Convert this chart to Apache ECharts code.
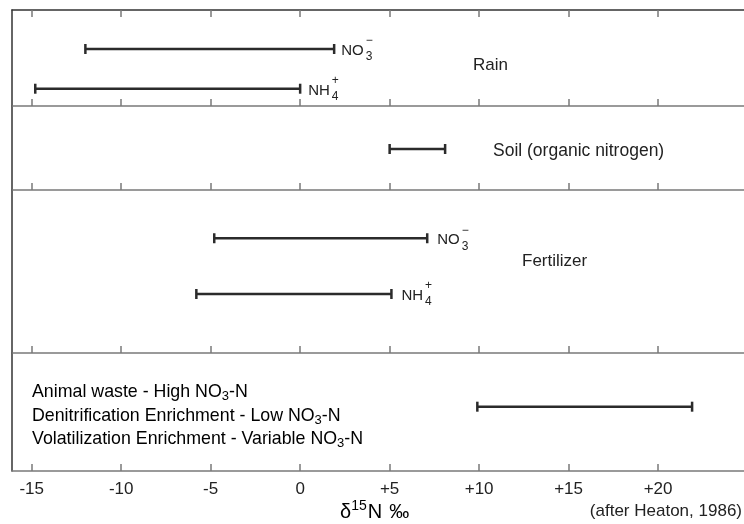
<!DOCTYPE html>
<html lang="en">
<head>
<meta charset="UTF-8">
<title>d15N ranges</title>
<script src="https://cdn.jsdelivr.net/npm/echarts@6/dist/echarts.min.js"></script>
<style>
  html, body { margin: 0; padding: 0; background: #fff; }
  #main { width: 744px; height: 524px; }
</style>
</head>
<body>
<div id="main"></div>
<script>
// ranges of d15N (per mil)
var rainNO3 = [-12, 1.9];
var rainNH4 = [-14.8, 0];
var soilN = [5, 8.1];
var fertNO3 = [-4.8, 7.1];
var fertNH4 = [-5.8, 5.1];
var animalWaste = [9.9, 21.9];

var tickValues = [-15, -10, -5, 0, 5, 10, 15, 20];
var xMin = -16.1, xMax = 24.8;

var FONT = "'Liberation Sans', Arial, Helvetica, sans-serif";
var INK = '#2b2b2b';
var AXIS = '#7a7a7a';

// panel boxes (px)
var panels = [
  { top: 10, height: 96 },
  { top: 106, height: 84 },
  { top: 190, height: 163 },
  { top: 353, height: 118 }
];

// which panel, where inside it (0 = top, 1 = bottom), ion label
var rows = [
  { panel: 0, range: rainNO3, at: 0.406, ion: ['NO', '\u2212', '3'], gap: 7 },
  { panel: 0, range: rainNH4, at: 0.82, ion: ['NH', '+', '4'], gap: 8 },
  { panel: 1, range: soilN, at: 0.512, ion: null },
  { panel: 2, range: fertNO3, at: 0.296, ion: ['NO', '\u2212', '3'], gap: 10 },
  { panel: 2, range: fertNH4, at: 0.638, ion: ['NH', '+', '4'], gap: 10 },
  { panel: 3, range: animalWaste, at: 0.455, ion: null }
];

var measureCtx = document.createElement('canvas').getContext('2d');
function textWidth(s, size) {
  measureCtx.font = size + 'px ' + FONT;
  return measureCtx.measureText(s).width;
}

function fmtTick(v) {
  return v > 0 ? '+' + v : String(v);
}

var grid = [], xAxis = [], yAxis = [], series = [];

panels.forEach(function (p, i) {
  var last = i === panels.length - 1;
  grid.push({ left: 12, right: 0, top: p.top, height: p.height });
  // bottom edge of each panel, ticks pointing up
  xAxis.push({
    type: 'value', gridIndex: i, position: 'bottom', min: xMin, max: xMax,
    axisLine: { show: true, onZero: false, lineStyle: { color: AXIS, width: 1.5 } },
    axisTick: { show: true, inside: true, length: 7, customValues: tickValues,
      lineStyle: { color: AXIS, width: 1.5 } },
    axisLabel: last ? {
      show: true, customValues: tickValues, formatter: fmtTick, margin: 10,
      color: '#222', fontSize: 17, fontFamily: FONT
    } : { show: false },
    splitLine: { show: false }
  });
  yAxis.push({
    type: 'value', gridIndex: i, min: 0, max: 1, inverse: true, position: 'left',
    axisLine: { show: true, onZero: false, lineStyle: { color: '#333', width: 1.5 } },
    axisTick: { show: false }, axisLabel: { show: false }, splitLine: { show: false }
  });
});

// top frame line, only on the first panel
xAxis.push({
  type: 'value', gridIndex: 0, position: 'top', min: xMin, max: xMax,
  axisLine: { show: true, onZero: false, lineStyle: { color: '#333', width: 1.5 } },
  axisTick: { show: true, inside: true, length: 7, customValues: tickValues,
    lineStyle: { color: AXIS, width: 1.5 } },
  axisLabel: { show: false },
  splitLine: { show: false }
});

function renderRange(params, api) {
  var r = rows[params.seriesIndex];
  var a = api.coord([api.value(0), api.value(2)]);
  var b = api.coord([api.value(1), api.value(2)]);
  var st = { stroke: INK, lineWidth: 2.5 };
  var kids = [
    { type: 'line', shape: { x1: a[0], y1: a[1], x2: b[0], y2: b[1] }, style: st },
    { type: 'line', shape: { x1: a[0], y1: a[1] - 5, x2: a[0], y2: a[1] + 5 }, style: st },
    { type: 'line', shape: { x1: b[0], y1: b[1] - 5, x2: b[0], y2: b[1] + 5 }, style: st }
  ];
  if (r.ion) {
    var x0 = b[0] + r.gap;
    var w = textWidth(r.ion[0], 15);
    var t = function (txt, x, y, size) {
      return { type: 'text', style: { text: txt, x: x, y: y, fill: '#222',
        font: size + 'px ' + FONT, align: 'left', verticalAlign: 'middle' } };
    };
    kids.push(t(r.ion[0], x0, b[1] + 2, 15));
    kids.push(t(r.ion[1], x0 + w + 2, b[1] - 8, 12));
    kids.push(t(r.ion[2], x0 + w + 2, b[1] + 8, 12));
  }
  return { type: 'group', children: kids };
}

rows.forEach(function (r) {
  series.push({
    type: 'custom',
    xAxisIndex: r.panel,
    yAxisIndex: r.panel,
    silent: true,
    renderItem: renderRange,
    data: [[r.range[0], r.range[1], r.at]]
  });
});

var txt = { fill: '#222', fontSize: 17, fontFamily: FONT };
var subRich = {
  t: { fontSize: 17.8, fontFamily: FONT, color: '#222', lineHeight: 23.5 },
  s: { fontSize: 13, fontFamily: FONT, color: '#222', lineHeight: 23.5, padding: [8, 0, 0, 0] }
};

var graphic = [
  { type: 'text', left: 473, top: 57, style: Object.assign({}, txt, { text: 'Rain' }) },
  { type: 'text', left: 493, top: 142, style: Object.assign({}, txt, { text: 'Soil (organic nitrogen)', fontSize: 17.5 }) },
  { type: 'text', left: 522, top: 253, style: Object.assign({}, txt, { text: 'Fertilizer' }) },
  { type: 'text', left: 32, top: 382, style: {
      text: '{t|Animal waste - High NO}{s|3}{t|-N}\n' +
            '{t|Denitrification Enrichment - Low NO}{s|3}{t|-N}\n' +
            '{t|Volatilization Enrichment - Variable NO}{s|3}{t|-N}',
      rich: subRich } },
  { type: 'text', left: 340, top: 499, style: {
      text: '{d|\u03b4}{p|15}{d|N}{m|\u2030}',
      rich: {
        d: { fontSize: 20, fontFamily: FONT, color: '#222', lineHeight: 28 },
        p: { fontSize: 14, fontFamily: FONT, color: '#222', lineHeight: 28, padding: [0, 1, 12, 0] },
        m: { fontSize: 20, fontFamily: FONT, color: '#222', lineHeight: 28, padding: [0, 0, 0, 7] }
      } } },
  { type: 'text', right: 2, top: 503, style: Object.assign({}, txt, { text: '(after Heaton, 1986)' }) }
];

var chart = echarts.init(document.getElementById('main'), null, { renderer: 'canvas' });
chart.setOption({
  animation: false,
  backgroundColor: '#fff',
  grid: grid,
  xAxis: xAxis,
  yAxis: yAxis,
  series: series,
  graphic: graphic
});
</script>
</body>
</html>
